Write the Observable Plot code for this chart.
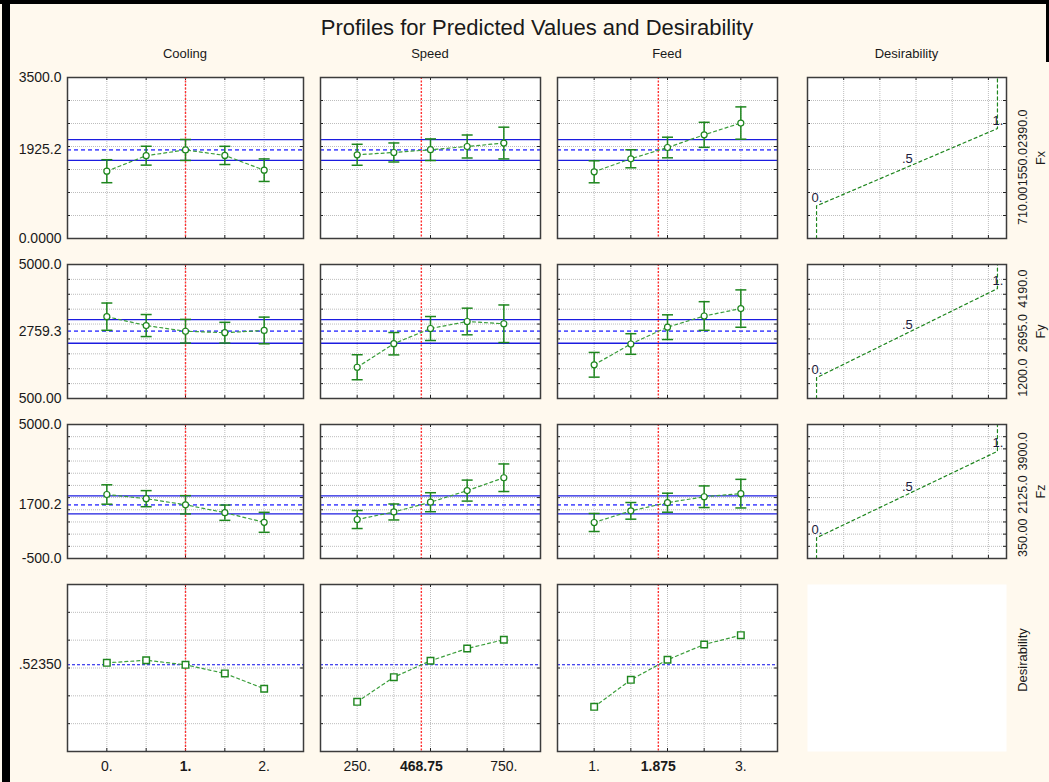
<!DOCTYPE html>
<html>
<head>
<meta charset="utf-8">
<script src="https://cdn.jsdelivr.net/npm/d3@7"></script>
<script src="https://cdn.jsdelivr.net/npm/@observablehq/plot@0.6"></script>
<style>
  html, body { margin: 0; padding: 0; background: #fff9ee; }
  #page {
    position: relative; width: 1049px; height: 782px; overflow: hidden;
    background: #fff9ee; color: #1a1a1a;
    font-family: "Liberation Sans", Arial, sans-serif;
  }
  .edge { position: absolute; background: #000; }
  .title {
    position: absolute; top: 15px; left: 537px; transform: translateX(-50%);
    font-size: 22px; white-space: nowrap;
  }
  .colhead {
    position: absolute; top: 46px; transform: translateX(-50%);
    font-size: 13px; white-space: nowrap;
  }
  #page svg { position: absolute; overflow: visible; }
</style>
</head>
<body>
<div id="page">
  <div class="edge" style="left:2px;top:0;width:8px;height:782px"></div>
  <div class="edge" style="left:0;top:0;width:1049px;height:4px"></div>
  <div class="edge" style="left:1046px;top:0;width:3px;height:62px"></div>
  <div class="title">Profiles for Predicted Values and Desirability</div>
</div>
<script>
// ---- factors (columns) ----
const factorNames = ["Cooling", "Speed", "Feed"];
const coolingLevels = [0, 0.5, 1, 1.5, 2];
const speedLevels = [250, 375, 500, 625, 750];
const feedLevels = [1, 1.5, 2, 2.5, 3];
const currentSettings = [1, 468.75, 1.875];
const currentSettingText = ["1.", "468.75", "1.875"];
const xDomains = [[-0.5, 2.5], [125, 875], [0.5, 3.5]];
const xEndValues = [[0, 2], [250, 750], [1, 3]];
const xEndText = [["0.", "2."], ["250.", "750."], ["1.", "3."]];

// ---- responses (rows) ----
const responseNames = ["Fx", "Fy", "Fz"];
const yDomains = [[0, 3500], [500, 5000], [-500, 5000]];
const yGrid = [
  [500, 1000, 1500, 2000, 2500, 3000],
  [1000, 1500, 2000, 2500, 3000, 3500, 4000, 4500],
  [0, 500, 1000, 1500, 2000, 2500, 3000, 3500, 4000, 4500]
];
const yEndText = [["0.0000", "3500.0"], ["500.00", "5000.0"], ["-500.0", "5000.0"]];
const predicted = [1925.2, 2759.3, 1700.2];
const predictedText = ["1925.2", "2759.3", "1700.2"];
const predictedLow = [1700, 2355, 1330];
const predictedHigh = [2150, 3150, 2070];

// predicted response at each factor level, with confidence half-widths
const fxCooling = [1463, 1800, 1925, 1806, 1485];
const fxCoolingCI = [250, 205, 228, 198, 245];
const fxSpeed = [1820, 1870, 1930, 2000, 2075];
const fxSpeedCI = [228, 207, 235, 250, 345];
const fxFeed = [1450, 1733, 1978, 2254, 2510];
const fxFeedCI = [239, 196, 224, 272, 351];

const fyCooling = [3248, 2950, 2759, 2710, 2785];
const fyCoolingCI = [458, 370, 398, 348, 448];
const fySpeed = [1550, 2340, 2850, 3086, 3010];
const fySpeedCI = [420, 376, 403, 447, 631];
const fyFeed = [1632, 2330, 2895, 3270, 3520];
const fyFeedCI = [415, 346, 415, 481, 627];

const fzCooling = [2127, 1956, 1705, 1380, 985];
const fzCoolingCI = [398, 330, 375, 314, 410];
const fzSpeed = [1100, 1410, 1810, 2287, 2815];
const fzSpeedCI = [370, 328, 390, 431, 566];
const fzFeed = [978, 1456, 1790, 2035, 2162];
const fzFeedCI = [370, 342, 390, 444, 587];

// ---- overall desirability profile ----
const desCooling = [0.537, 0.556, 0.523, 0.461, 0.351];
const desSpeed = [0.257, 0.434, 0.552, 0.640, 0.703];
const desFeed = [0.221, 0.415, 0.559, 0.669, 0.736];
const currentDesirability = 0.5235;
const currentDesirabilityText = ".52350";
const desYDomain = [-0.1, 1.1];
const desYGrid = [0.1, 0.3, 0.5, 0.7, 0.9];

// ---- desirability functions of each response ----
const desXDomain = [-0.05, 1.05];
const desXGrid = [0.15, 0.35, 0.55, 0.75, 0.95];
const desLow = [710, 1200, 350];
const desMid = [1550, 2695, 2125];
const desHigh = [2390, 4190, 3900];
const desLowText = ["710.00", "1200.0", "350.00"];
const desMidText = ["1550.0", "2695.0", "2125.0"];
const desHighText = ["2390.0", "4190.0", "3900.0"];
const desLevelText = ["0.", ".5", "1."];

// ---- layout of the panel grid ----
const colLeft = [67, 320, 557, 807];
const colWidth = [236, 220, 220, 199];
const rowTop = [77, 264, 424, 584];
const rowHeight = [161, 134, 134, 167];

const factorLevels = [coolingLevels, speedLevels, feedLevels];
const series = [[fxCooling, fxSpeed, fxFeed], [fyCooling, fySpeed, fyFeed], [fzCooling, fzSpeed, fzFeed]];
const seriesCI = [[fxCoolingCI, fxSpeedCI, fxFeedCI], [fyCoolingCI, fySpeedCI, fyFeedCI], [fzCoolingCI, fzSpeedCI, fzFeedCI]];
const desSeries = [desCooling, desSpeed, desFeed];

const GREEN = "#1e861e";
const GREEN_LINE = "#3b9e3b";
const GRID = "#bdbdbd";
const FRAME = "#3c3c3c";
const RED = "#ff3030";
const FONT = "'Liberation Sans', Arial, sans-serif";
const INK = "#1a1a1a";

// horizontal error-bar cap drawn as a dot symbol
const capSymbol = {
  draw(ctx, size) {
    const w = Math.sqrt(size / Math.PI);
    ctx.moveTo(-w, 0);
    ctx.lineTo(w, 0);
  }
};

const page = document.getElementById("page");

factorNames.concat(["Desirability"]).forEach((name, c) => {
  const d = document.createElement("div");
  d.className = "colhead";
  d.style.left = (colLeft[c] + colWidth[c] / 2) + "px";
  d.textContent = name;
  page.append(d);
});

function place(svg, c, r) {
  svg.style.left = colLeft[c] + "px";
  svg.style.top = rowTop[r] + "px";
  page.append(svg);
}

function basePlot(W, H, xDomain, yDomain, marks) {
  return Plot.plot({
    width: W, height: H, margin: 0,
    x: {domain: xDomain, axis: null},
    y: {domain: yDomain, axis: null},
    style: {background: "transparent", overflow: "visible", fontFamily: FONT, fontSize: "14px", color: INK},
    marks
  });
}

// short inward ticks along all four edges of a panel
function innerTicks(xs, ys, W, H) {
  const s = {stroke: "#222", strokeWidth: 1};
  return [
    Plot.tickX(xs, {insetBottom: H - 3, ...s}),
    Plot.tickX(xs, {insetTop: H - 3, ...s}),
    Plot.tickY(ys, {insetRight: W - 3, ...s}),
    Plot.tickY(ys, {insetLeft: W - 3, ...s})
  ];
}

function grid(xs, ys) {
  return [
    Plot.ruleX(xs, {stroke: GRID, strokeDasharray: "1,1"}),
    Plot.ruleY(ys, {stroke: GRID, strokeDasharray: "1,1"})
  ];
}

// current factor setting: dotted red marker line
function currentLine(c) {
  return Plot.ruleX([currentSettings[c]], {stroke: RED, strokeWidth: 1.4, strokeDasharray: "2,1.5"});
}

function xLabels(c) {
  const t = {frameAnchor: "bottom", lineAnchor: "middle", textAnchor: "middle", dy: 15, fontSize: 14, fill: INK};
  return [
    Plot.text(xEndValues[c], {x: d => d, text: (d, i) => xEndText[c][i], ...t}),
    Plot.text([currentSettings[c]], {x: d => d, text: [currentSettingText[c]], fontWeight: "bold", ...t})
  ];
}

const leftLabel = {frameAnchor: "left", textAnchor: "end", lineAnchor: "middle", dx: -6, fontSize: 14, fill: INK};
const rotLabel = {frameAnchor: "right", textAnchor: "middle", lineAnchor: "middle", rotate: -90, fill: INK};

// predicted response vs factor level
for (let r = 0; r < 3; r++) {
  for (let c = 0; c < 3; c++) {
    const W = colWidth[c], H = rowHeight[r];
    const data = factorLevels[c].map((x, i) => ({x, y: series[r][c][i], e: seriesCI[r][c][i]}));
    const marks = [
      Plot.frame({fill: "white"}),
      ...grid(factorLevels[c], yGrid[r]),
      ...innerTicks(factorLevels[c], yGrid[r], W, H),
      Plot.ruleY([predictedLow[r], predictedHigh[r]], {stroke: "#1c1ce0", strokeWidth: 1.3}),
      Plot.ruleY([predicted[r]], {stroke: "#5a5aff", strokeWidth: 1.8, strokeDasharray: "4,3"}),
      currentLine(c),
      Plot.line(data, {x: "x", y: "y", stroke: GREEN_LINE, strokeWidth: 1.2, strokeDasharray: "3,3"}),
      Plot.ruleX(data, {x: "x", y1: d => d.y - d.e, y2: d => d.y + d.e, stroke: GREEN, strokeWidth: 1.5}),
      Plot.dot(data, {x: "x", y: d => d.y - d.e, symbol: capSymbol, r: 5.5, stroke: GREEN, fill: "none", strokeWidth: 1.5}),
      Plot.dot(data, {x: "x", y: d => d.y + d.e, symbol: capSymbol, r: 5.5, stroke: GREEN, fill: "none", strokeWidth: 1.5}),
      Plot.dot(data, {x: "x", y: "y", r: 3, stroke: GREEN, fill: "white", strokeWidth: 1.2}),
      Plot.frame({stroke: FRAME, strokeWidth: 1.5})
    ];
    if (c === 0) {
      const vals = [yDomains[r][0], predicted[r], yDomains[r][1]];
      const txt = [yEndText[r][0], predictedText[r], yEndText[r][1]];
      marks.push(Plot.text(vals, {y: d => d, text: (d, i) => txt[i], ...leftLabel}));
    }
    place(basePlot(W, H, xDomains[c], yDomains[r], marks), c, r);
  }
}

// overall desirability vs factor level
for (let c = 0; c < 3; c++) {
  const r = 3, W = colWidth[c], H = rowHeight[r];
  const data = factorLevels[c].map((x, i) => ({x, y: desSeries[c][i]}));
  const marks = [
    Plot.frame({fill: "white"}),
    ...grid(factorLevels[c], desYGrid),
    ...innerTicks(factorLevels[c], desYGrid, W, H),
    Plot.ruleY([currentDesirability], {stroke: "#0c0ce8", strokeWidth: 1.2, strokeDasharray: "3,2"}),
    currentLine(c),
    Plot.line(data, {x: "x", y: "y", stroke: GREEN_LINE, strokeWidth: 1.2, strokeDasharray: "3,3"}),
    Plot.dot(data, {x: "x", y: "y", r: 3.7, symbol: "square", stroke: GREEN, fill: "white", strokeWidth: 1.4}),
    Plot.frame({stroke: FRAME, strokeWidth: 1.5}),
    ...xLabels(c)
  ];
  if (c === 0) {
    marks.push(Plot.text([currentDesirability], {y: d => d, text: [currentDesirabilityText], ...leftLabel}));
  }
  place(basePlot(W, H, xDomains[c], desYDomain, marks), c, r);
}

// desirability function of each response
for (let r = 0; r < 3; r++) {
  const c = 3, W = colWidth[c], H = rowHeight[r];
  const curve = [
    {d: 0, v: yDomains[r][0]}, {d: 0, v: desLow[r]},
    {d: 1, v: desHigh[r]}, {d: 1, v: yDomains[r][1]}
  ];
  const levels = [{d: 0, v: desLow[r]}, {d: 0.5, v: desMid[r]}, {d: 1, v: desHigh[r]}];
  const specVals = [desLow[r], desMid[r], desHigh[r]];
  const specText = [desLowText[r], desMidText[r], desHighText[r]];
  const marks = [
    Plot.frame({fill: "white"}),
    ...grid(desXGrid, yGrid[r]),
    ...innerTicks(desXGrid, yGrid[r], W, H),
    Plot.line(curve, {x: "d", y: "v", stroke: GREEN, strokeWidth: 1.2, strokeDasharray: "3,3"}),
    Plot.text(levels, {x: "d", y: "v", text: (d, i) => desLevelText[i], textAnchor: "start", lineAnchor: "middle", dx: -5, dy: -8, fontSize: 13, fill: "#1c1c3c"}),
    Plot.frame({stroke: FRAME, strokeWidth: 1.5}),
    Plot.text(specVals, {y: d => d, text: (d, i) => specText[i], dx: 16, fontSize: 12.5, ...rotLabel}),
    Plot.text([responseNames[r]], {text: d => d, dx: 34, fontSize: 12.5, ...rotLabel})
  ];
  place(basePlot(W, H, desXDomain, yDomains[r], marks), c, r);
}

// blank corner cell with the desirability row title
{
  const c = 3, r = 3;
  const marks = [
    Plot.frame({fill: "white"}),
    Plot.text(["Desirability"], {text: d => d, dx: 16, dy: -8, fontSize: 13, ...rotLabel})
  ];
  place(basePlot(colWidth[c], rowHeight[r], desXDomain, desYDomain, marks), c, r);
}
</script>
</body>
</html>
